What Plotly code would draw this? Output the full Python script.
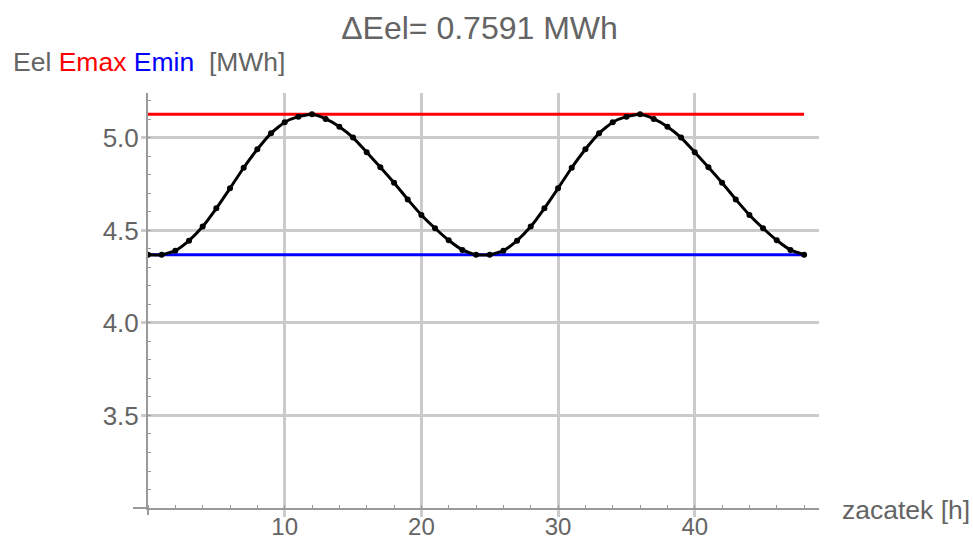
import plotly.graph_objects as go

# ---- data ----
hours = list(range(0, 49))
eel = [4.3685, 4.3690, 4.391, 4.445, 4.521, 4.620, 4.728, 4.839, 4.939, 5.025,
       5.085, 5.115, 5.1276, 5.103, 5.061, 5.002, 4.923, 4.842, 4.758, 4.668,
       4.584, 4.512, 4.447, 4.395,
       4.3685, 4.3690, 4.391, 4.445, 4.521, 4.620, 4.728, 4.839, 4.939, 5.025,
       5.085, 5.115, 5.1276, 5.103, 5.061, 5.002, 4.923, 4.842, 4.758, 4.668,
       4.584, 4.512, 4.447, 4.395,
       4.3685]
emax = 5.1276
emin = 4.3685
line_x = [0, 48]
x_ticks = [10, 20, 30, 40]
y_ticks = [3.5, 4.0, 4.5, 5.0]
y_tick_text = ["3.5", "4.0", "4.5", "5.0"]
title_text = "ΔEel= 0.7591 MWh"

GREY_TXT = "#646464"
AXIS = "#9a9a9a"
GRID = "#cbcbcb"
FONT = "Liberation Sans, Arial, sans-serif"

fig = go.Figure()
fig.add_trace(go.Scatter(x=line_x, y=[emax, emax], mode="lines",
                         line=dict(color="#ff0000", width=3), hoverinfo="skip"))
fig.add_trace(go.Scatter(x=line_x, y=[emin, emin], mode="lines",
                         line=dict(color="#0000ff", width=3), hoverinfo="skip"))
fig.add_trace(go.Scatter(x=hours, y=eel, mode="lines+markers",
                         line=dict(color="black", width=3, shape="spline", smoothing=0.5),
                         marker=dict(color="black", size=6)))

fig.update_layout(
    width=973, height=541,
    margin=dict(l=148, r=154, t=93, b=33, autoexpand=False),
    paper_bgcolor="white", plot_bgcolor="white",
    showlegend=False,
    font=dict(family=FONT, size=26, color=GREY_TXT),
    title=dict(text=title_text, x=479.5 / 973, xref="container", xanchor="center",
               y=(541 - 28) / 541, yref="container", yanchor="middle",
               font=dict(size=32, color=GREY_TXT, family=FONT)),
)

fig.update_xaxes(
    range=[0, 49.09], tickmode="array", tickvals=x_ticks, automargin=False,
    showgrid=True, gridcolor=GRID, gridwidth=2.5, zeroline=False,
    showline=True, linecolor=AXIS, linewidth=2,
    ticks="outside", ticklen=7, tickwidth=2.5, tickcolor=GRID,
    ticklabelstandoff=-11,
    tickfont=dict(size=24, color=GREY_TXT),
    minor=dict(dtick=2, tick0=0, ticks="inside", ticklen=3, tickwidth=1,
               tickcolor=AXIS, showgrid=False),
)
fig.update_yaxes(
    range=[3.0, 5.243], tickmode="array", tickvals=y_ticks, ticktext=y_tick_text,
    automargin=False,
    showgrid=True, gridcolor=GRID, gridwidth=2.5, zeroline=False,
    showline=True, linecolor=AXIS, linewidth=2,
    ticks="outside", ticklen=5, tickwidth=2.5, tickcolor=GRID,
    ticklabelstandoff=-3,
    tickfont=dict(size=26, color=GREY_TXT),
    minor=dict(dtick=0.1, tick0=3.0, ticks="inside", ticklen=3, tickwidth=1,
               tickcolor=AXIS, showgrid=False),
)

# axis-line extensions (x axis left of origin, y axis below origin)
fig.add_shape(type="line", xref="paper", yref="paper", x0=-15 / 671, x1=0, y0=0, y1=0,
              line=dict(color=AXIS, width=2))
fig.add_shape(type="line", xref="paper", yref="paper", x0=0, x1=0, y0=0, y1=-7 / 415,
              line=dict(color=AXIS, width=2))

fig.add_annotation(
    text="Eel <span style='color:#ff0000'>Emax</span> <span style='color:#0000ff'>Emin</span>&nbsp;&nbsp;[MWh]",
    xref="paper", yref="paper", x=(11 - 148) / 671, y=(508 - 62) / 415,
    xanchor="left", yanchor="middle", showarrow=False,
    font=dict(size=26.5, color=GREY_TXT, family=FONT))
fig.add_annotation(
    text="zacatek [h]", xref="paper", yref="paper", x=(840 - 148) / 671, y=(508 - 510) / 415,
    xanchor="left", yanchor="middle", showarrow=False,
    font=dict(size=26.5, color=GREY_TXT, family=FONT))

fig.write_html("out.html")
